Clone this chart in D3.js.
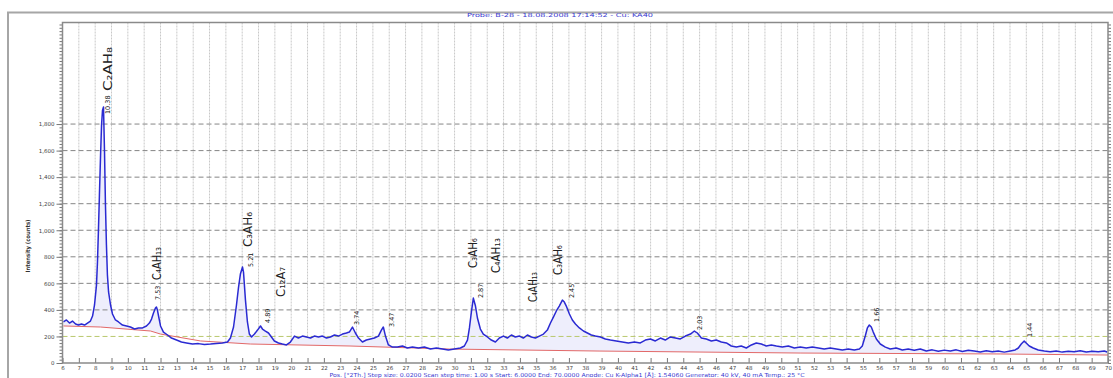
<!DOCTYPE html>
<meta charset="utf-8">
<style>
body { margin: 0; background: #fff; }
svg { display: block; }
.axis text { font: 5.5px "DejaVu Sans", sans-serif; fill: #444; }
.axis line { stroke: #777; }
.axis path { display: none; }
.gridx line { stroke: #c8c8c8; stroke-dasharray: 2,1; }
.gridy line { stroke: #858585; stroke-dasharray: 5,3; }
.dval { font: 6.5px "DejaVu Sans", sans-serif; fill: #111; }
.phase { font: 13px "DejaVu Sans Condensed", "DejaVu Sans", sans-serif; fill: #222; }
.caption { font: 5.5px "DejaVu Sans", sans-serif; fill: #3a3ad0; }
</style>
<svg width="1113" height="378"></svg>
<script src="https://d3js.org/d3.v7.min.js"></script>
<script>
// measured pattern (2theta in degrees, intensity in counts)
var twoTheta = [6.06, 6.24, 6.43, 6.61, 6.80, 6.98, 7.16, 7.35, 7.53, 7.71,
  7.84, 7.96, 8.08, 8.14, 8.20, 8.26, 8.33, 8.39, 8.45, 8.51, 8.57, 8.63, 8.69, 8.75, 8.82, 8.94, 9.06,
  9.24, 9.43, 9.67, 9.92, 10.16, 10.41, 10.65, 10.90, 11.14, 11.32, 11.45, 11.57, 11.69, 11.75, 11.81, 11.88,
  12.00, 12.18, 12.43, 12.67, 12.98, 13.28, 13.59, 13.96, 14.32, 14.69, 15.06, 15.42, 15.79, 16.10,
  16.28, 16.47, 16.65, 16.77, 16.89, 17.02, 17.08, 17.20, 17.32, 17.44, 17.57, 17.75, 17.94, 18.12, 18.24, 18.42, 18.61, 18.79, 18.97, 19.22, 19.46, 19.71, 19.95,
  20.20, 20.44, 20.69, 20.93, 21.18, 21.42, 21.67, 21.91, 22.16, 22.40, 22.65, 22.89, 23.14, 23.38, 23.56,
  23.75, 23.93, 24.12, 24.36, 24.60, 24.85, 25.09, 25.34, 25.52, 25.64, 25.77, 25.95,
  26.20, 26.50, 26.81, 27.11, 27.42, 27.79, 28.15, 28.52, 28.89, 29.26, 29.62, 29.99, 30.36, 30.60,
  30.79, 30.91, 31.03, 31.15, 31.28, 31.40, 31.58, 31.76, 32.01, 32.25, 32.50, 32.74, 32.99, 33.23, 33.48, 33.72, 33.97, 34.21, 34.46, 34.70, 34.95, 35.19, 35.44, 35.68,
  35.87, 36.05, 36.23, 36.41, 36.60, 36.72, 36.84, 37.03, 37.21, 37.40, 37.64, 37.89, 38.13, 38.37, 38.62, 38.93, 39.23, 39.54, 39.90, 40.27, 40.64, 41.01, 41.37,
  41.68, 41.99, 42.29, 42.60, 42.90, 43.21, 43.52, 43.82, 44.13, 44.44, 44.68, 44.86, 45.11, 45.41, 45.72, 46.02, 46.33, 46.64,
  46.94, 47.25, 47.55, 47.86, 48.17, 48.47, 48.78, 49.08, 49.39, 49.70, 50.06, 50.43, 50.80, 51.17, 51.53, 51.90, 52.27, 52.63, 53.00, 53.37, 53.74, 54.10, 54.47, 54.78,
  54.96, 55.14, 55.27, 55.39, 55.51, 55.63, 55.82, 56.06, 56.37, 56.67,
  57.04, 57.41, 57.77, 58.14, 58.51, 58.88, 59.24, 59.61, 59.98, 60.35, 60.71, 61.08, 61.45, 61.81, 62.18, 62.55, 62.92, 63.28, 63.65, 64.02,
  64.32, 64.51, 64.69, 64.87, 64.99, 65.18, 65.42, 65.73, 66.10, 66.46, 66.83, 67.20, 67.57, 67.93, 68.30, 68.67, 69.04, 69.40, 69.77, 69.95];

var counts = [309, 324, 301, 316, 294, 286, 294, 286, 301, 316,
  354, 437, 587, 760, 1001, 1265, 1566, 1792, 1905, 1928, 1604, 1190, 889, 663, 535, 437, 369,
  324, 309, 286, 279, 271, 256, 264, 264, 279, 301, 331, 377, 414, 422, 399, 354,
  279, 233, 211, 188, 173, 158, 151, 143, 146, 140, 143, 147, 151, 158,
  188, 271, 437, 565, 670, 723, 685, 474, 309, 218, 196, 218, 248, 279, 256, 241, 226, 196, 166, 151, 143, 136, 158,
  203, 188, 203, 196, 188, 203, 196, 203, 188, 196, 211, 203, 218, 226, 233,
  271, 226, 188, 158, 173, 181, 188, 203, 248, 271, 203, 136,
  120, 120, 128, 113, 120, 113, 120, 105, 113, 105, 98, 105, 113, 128,
  173, 264, 384, 489, 429, 339, 256, 218, 196, 173, 158, 188, 203, 188, 211, 196, 203, 188, 211, 196, 188, 203, 218, 248,
  301, 346, 392, 429, 474, 459, 429, 369, 324, 294, 264, 241, 226, 211, 203, 196, 181, 173, 166, 158, 151, 158, 151,
  173, 181, 166, 188, 173, 196, 188, 181, 203, 218, 241, 226, 188, 181, 166, 173, 158, 151,
  128, 120, 128, 113, 136, 151, 143, 128, 136, 128, 120, 128, 113, 120, 113, 120, 113, 105, 113, 105, 98, 105, 98, 105,
  128, 203, 264, 286, 271, 233, 181, 143, 120, 105,
  113, 98, 105, 96, 106, 90, 99, 88, 97, 91, 99, 87, 96, 90, 83, 92, 84, 90, 82, 91,
  98, 113, 143, 166, 151, 128, 113, 98, 90, 84, 91, 82, 89, 85, 92, 83, 88, 84, 91, 83];

// fitted background
var bgTheta = [6.06, 8.33, 11.39, 12.0, 14.45, 17.5, 23.6, 29.7, 38.9, 51.2, 63.4, 70.0];
var bgCounts = [279, 271, 241, 218, 166, 143, 128, 105, 90, 75, 68, 60];

// identified peaks
var peakTheta = [8.51, 11.75, 17.02, 18.12, 23.75, 25.64, 31.15, 36.60, 44.68, 55.39, 64.87];
var peakCounts = [1928, 422, 723, 279, 271, 271, 489, 474, 241, 286, 166];
var peakD = ["10.38", "7.53", "5.21", "4.89", "3.74", "3.47", "2.87", "2.45", "2.03", "1.66", "1.44"];

// phase annotations (name, index of peak)
var phaseNames = ["C2AH8", "C4AH13", "C3AH6", "C12A7", "C3AH6", "C4AH13", "C4AH13", "C3AH6"];
var phasePeak = [0, 1, 2, 3, 6, 6, 7, 7];

var xTicks = d3.range(6, 71);
var yTicks = [0, 200, 400, 600, 800, 1000, 1200, 1400, 1600, 1800];

var titleText = "Probe: B-28 - 18.08.2008 17:14:52 - Cu: KA40";
var footText = "Pos. [°2Th.]  Step size: 0.0200  Scan step time: 1.00 s  Start: 6.0000  End: 70.0000  Anode: Cu  K-Alpha1 [Å]: 1.54060  Generator: 40 kV, 40 mA  Temp.: 25 °C";
var yTitle = "Intensity (counts)";
</script>
<script>
var svg = d3.select("svg");
var plotL = 62.5, plotR = 1108, plotT = 22.5, plotB = 363;

var x = d3.scaleLinear().domain([6, 70]).range([plotL, plotR]);
var y = d3.scaleLinear().domain([0, 2565]).range([plotB, plotT]);

var pts = twoTheta.map(function(t, i) { return [t, counts[i]]; });
var bg = bgTheta.map(function(t, i) { return [t, bgCounts[i]]; });

// outer frame
svg.append("path")
    .attr("d", "M8,378V12.5H1113")
    .attr("fill", "none")
    .attr("stroke", "#a6a6a6")
    .attr("stroke-width", 2);

// grid
svg.append("g")
    .attr("class", "gridx")
  .selectAll("line")
  .data(xTicks.slice(1, -1))
  .enter().append("line")
    .attr("x1", function(d) { return x(d); })
    .attr("x2", function(d) { return x(d); })
    .attr("y1", plotT)
    .attr("y2", plotB);

// light fill between pattern and background
svg.append("path")
    .datum(pts)
    .attr("fill", "#eeeefc")
    .attr("d", d3.area()
      .x(function(d) { return x(d[0]); })
      .y0(plotB)
      .y1(function(d) { return y(d[1]); }));

svg.append("path")
    .datum(bg)
    .attr("fill", "#fff")
    .attr("d", d3.area()
      .x(function(d) { return x(d[0]); })
      .y0(plotB)
      .y1(function(d) { return y(d[1]); }));

svg.append("g")
    .attr("class", "gridy")
  .selectAll("line")
  .data(yTicks.slice(1))
  .enter().append("line")
    .attr("x1", plotL)
    .attr("x2", plotR)
    .attr("y1", function(d) { return y(d); })
    .attr("y2", function(d) { return y(d); })
    .style("stroke", function(d) { return d == 200 ? "#b9c86e" : null; });

// background + pattern
svg.append("path")
    .datum(bg)
    .attr("fill", "none")
    .attr("stroke", "#e26868")
    .attr("stroke-width", 1)
    .attr("d", d3.line()
      .x(function(d) { return x(d[0]); })
      .y(function(d) { return y(d[1]); }));

svg.append("path")
    .datum(pts)
    .attr("fill", "none")
    .attr("stroke", "#2a2ad2")
    .attr("stroke-width", 1.5)
    .attr("stroke-linejoin", "round")
    .attr("d", d3.line()
      .x(function(d) { return x(d[0]); })
      .y(function(d) { return y(d[1]); }));

// axes
var minorY = d3.range(0, 2551, 25);
svg.append("g")
    .attr("class", "axis")
    .attr("transform", "translate(" + plotL + ",0)")
    .call(d3.axisLeft(y).tickValues(minorY).tickSize(3).tickFormat(""));
svg.append("g")
    .attr("class", "axis")
    .attr("transform", "translate(" + plotR + ",0)")
    .call(d3.axisRight(y).tickValues(minorY).tickSize(3).tickFormat(""));
svg.append("g")
    .attr("class", "axis")
    .attr("transform", "translate(" + plotL + ",0)")
    .call(d3.axisLeft(y).tickValues(yTicks).tickSize(6).tickPadding(2).tickFormat(d3.format(",")));
svg.append("g")
    .attr("class", "axis")
    .attr("transform", "translate(0," + plotB + ")")
    .call(d3.axisBottom(x).tickValues(xTicks).tickSizeInner(-5).tickSizeOuter(0).tickPadding(3));

svg.append("rect")
    .attr("x", plotL)
    .attr("y", plotT)
    .attr("width", plotR - plotL)
    .attr("height", plotB - plotT)
    .attr("fill", "none")
    .attr("stroke", "#8a8a8a")
    .attr("stroke-width", 1.5);

// peak d-value labels
var labelShift = [[4, 7], [2, -7], [8, 0], [8, -3], [5, -2], [9, 0], [8, 0], [10, -2], [6, -1], [8, -3], [6, -4]];
svg.append("g")
  .selectAll("text")
  .data(peakD)
  .enter().append("text")
    .attr("class", "dval")
    .attr("transform", function(d, i) {
      var px = x(peakTheta[i]) + labelShift[i][0] + 2;
      var py = y(peakCounts[i]) + labelShift[i][1];
      return "translate(" + px + "," + py + ") rotate(-90)";
    })
    .text(function(d) { return d; });

// phase names with subscript digits, fitted to the measured length
var subDigits = "₀₁₂₃₄₅₆₇₈₉";
var phaseLayout = [[8, -16, 44], [5, -27, 33], [9, -20, 35], [25, -29, 30], [4, -30, 30], [27, -25, 35], [-25, 2, 30], [0, -25, 30]];
svg.append("g")
  .selectAll("text")
  .data(phaseNames)
  .enter().append("text")
    .attr("class", "phase")
    .attr("textLength", function(d, i) { return phaseLayout[i][2]; })
    .attr("lengthAdjust", "spacingAndGlyphs")
    .attr("transform", function(d, i) {
      var p = phasePeak[i];
      var px = x(peakTheta[p]) + phaseLayout[i][0];
      var py = y(peakCounts[p]) + phaseLayout[i][1];
      return "translate(" + px + "," + py + ") rotate(-90)";
    })
    .text(function(d) {
      return d.replace(/\d/g, function(c) { return subDigits[+c]; });
    });

// captions
svg.append("text")
    .attr("class", "caption")
    .attr("x", 560)
    .attr("y", 17)
    .attr("text-anchor", "middle")
    .attr("textLength", 186)
    .attr("lengthAdjust", "spacingAndGlyphs")
    .text(titleText);

svg.append("text")
    .attr("class", "caption")
    .attr("x", 567)
    .attr("y", 377)
    .attr("text-anchor", "middle")
    .attr("textLength", 475)
    .attr("lengthAdjust", "spacingAndGlyphs")
    .text(footText);

svg.append("text")
    .attr("transform", "translate(30,246) rotate(-90)")
    .attr("text-anchor", "middle")
    .attr("textLength", 53)
    .attr("lengthAdjust", "spacingAndGlyphs")
    .style("font", "bold 6px 'DejaVu Sans', sans-serif")
    .style("fill", "#333")
    .text(yTitle);
</script>
